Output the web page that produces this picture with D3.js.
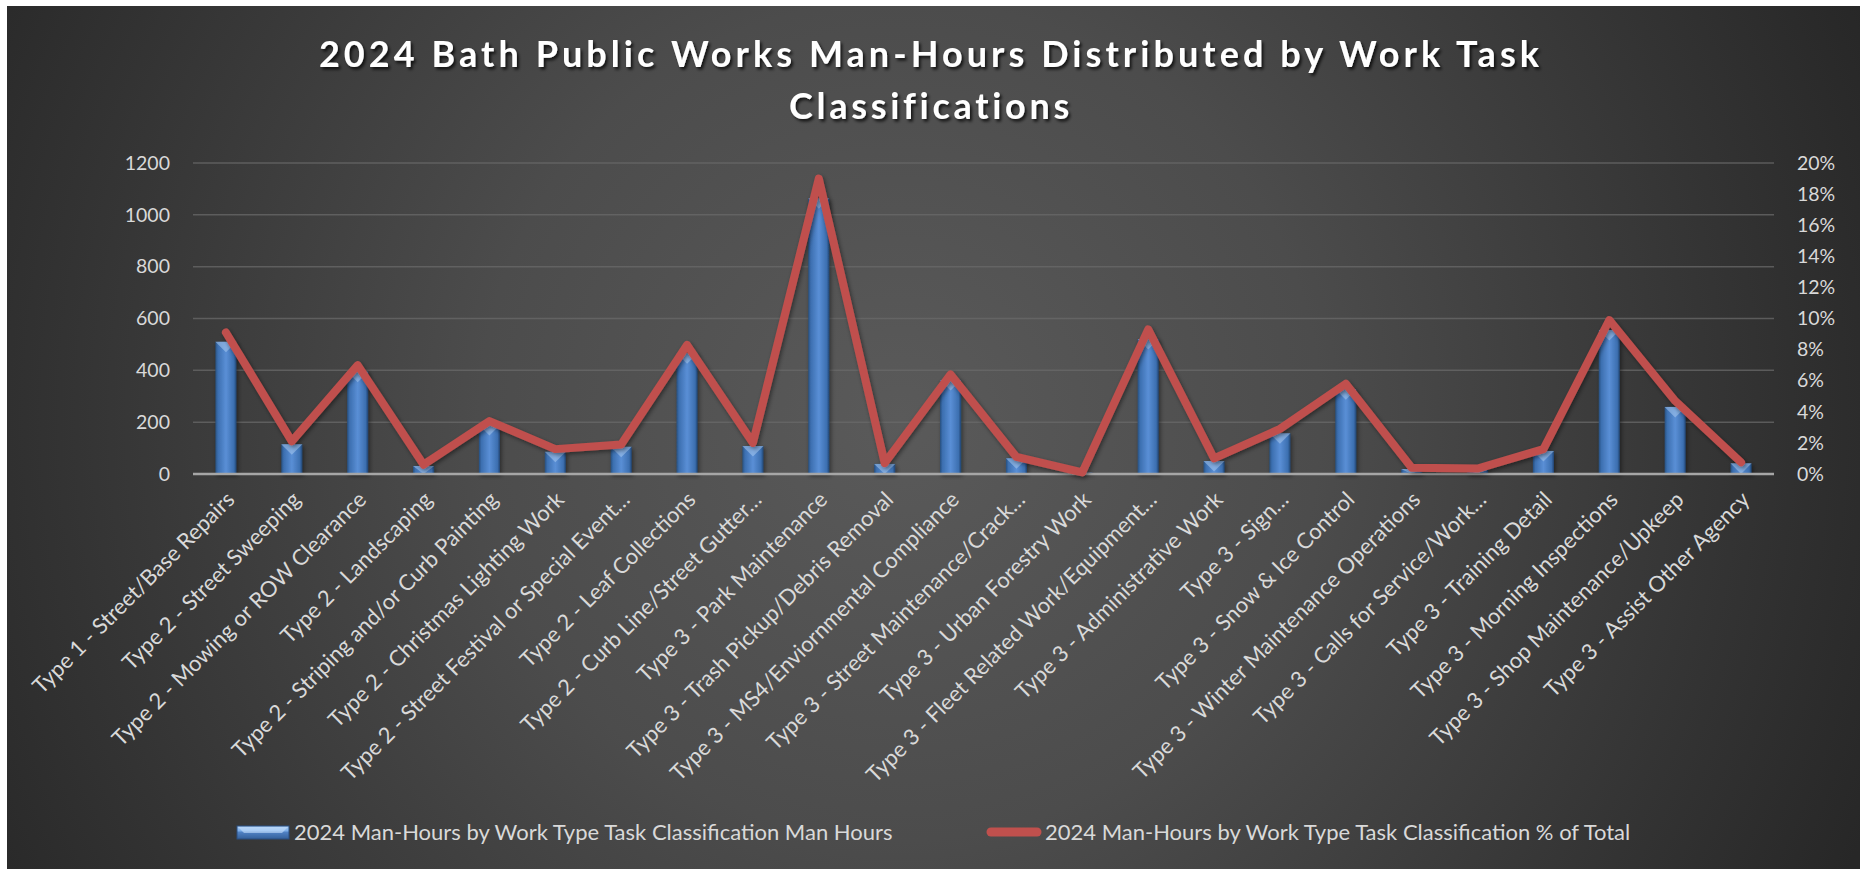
<!DOCTYPE html>
<html>
<head>
<meta charset="utf-8">
<script src="https://cdn.jsdelivr.net/npm/d3@7"></script>
<style>
  html, body { margin: 0; padding: 0; background: #ffffff; }
  svg { display: block; }
  text { font-family: Lato, "Open Sans", sans-serif; }
</style>
</head>
<body>
<svg id="chart" width="1860" height="869"></svg>
<script>
const categories = [
  "Type 1 - Street/Base Repairs",
  "Type 2 - Street Sweeping",
  "Type 2 - Mowing or ROW Clearance",
  "Type 2 - Landscaping",
  "Type 2 - Striping and/or Curb Painting",
  "Type 2 - Christmas Lighting Work",
  "Type 2 - Street Festival or Special Event…",
  "Type 2 - Leaf Collections",
  "Type 2 - Curb Line/Street Gutter…",
  "Type 3 - Park Maintenance",
  "Type 3 - Trash Pickup/Debris Removal",
  "Type 3 - MS4/Enviornmental Compliance",
  "Type 3 - Street Maintenance/Crack…",
  "Type 3 - Urban Forestry Work",
  "Type 3 - Fleet Related Work/Equipment…",
  "Type 3 - Administrative Work",
  "Type 3 - Sign…",
  "Type 3 - Snow & Ice Control",
  "Type 3 - Winter Maintenance Operations",
  "Type 3 - Calls for Service/Work…",
  "Type 3 - Training Detail",
  "Type 3 - Morning Inspections",
  "Type 3 - Shop Maintenance/Upkeep",
  "Type 3 - Assist Other Agency"
];
const manHours = [510, 115, 395, 31, 189, 86, 105, 466, 108, 1064, 39, 363, 61, 5, 521, 50, 157, 327, 19, 16, 89, 556, 259, 41];
const pctOfTotal = [0.091, 0.021, 0.070, 0.006, 0.034, 0.016, 0.019, 0.083, 0.020, 0.190, 0.007, 0.064, 0.011, 0.001, 0.093, 0.010, 0.029, 0.058, 0.004, 0.0035, 0.016, 0.099, 0.047, 0.0075];
const leftTicks = [0, 200, 400, 600, 800, 1000, 1200];
const rightTicks = [0, 0.02, 0.04, 0.06, 0.08, 0.10, 0.12, 0.14, 0.16, 0.18, 0.20];
const titleLines = ["2024 Bath Public Works Man-Hours Distributed by Work Task", "Classifications"];
const seriesNames = ["2024 Man-Hours by Work Type Task Classification Man Hours", "2024 Man-Hours by Work Type Task Classification % of Total"];

const W = 1860, H = 869;
const plot = { left: 193, right: 1774, top: 163, bottom: 474 };
const svg = d3.select("#chart");
const defs = svg.append("defs");

// background gradient
const bg = defs.append("radialGradient").attr("id", "bgGrad")
  .attr("gradientUnits", "userSpaceOnUse").attr("cx", 900).attr("cy", 420).attr("r", 1050);
[[0, "#5a5a5a"], [0.4, "#4c4c4c"], [0.8, "#333333"], [1, "#272727"]].forEach(([o, c]) =>
  bg.append("stop").attr("offset", o).attr("stop-color", c));

// bar gradient (horizontal cylinder-like)
const bgBar = defs.append("linearGradient").attr("id", "barGrad").attr("x1", 0).attr("x2", 1).attr("y1", 0).attr("y2", 0);
[[0, "#27507f"], [0.12, "#3c6fb0"], [0.5, "#5a8fd6"], [0.88, "#3c6fb0"], [1, "#1f4370"]].forEach(([o, c]) =>
  bgBar.append("stop").attr("offset", o).attr("stop-color", c));

const legGrad = defs.append("linearGradient").attr("id", "legGrad").attr("x1", 0).attr("x2", 0).attr("y1", 0).attr("y2", 1);
[[0, "#a9cdf5"], [0.35, "#7fb0ea"], [0.5, "#4f80c2"], [1, "#34609a"]].forEach(([o, c]) =>
  legGrad.append("stop").attr("offset", o).attr("stop-color", c));

const sh = defs.append("filter").attr("id", "shadow").attr("x", "-10%").attr("y", "-30%").attr("width", "120%").attr("height", "160%");
sh.append("feDropShadow").attr("dx", 2).attr("dy", 2.5).attr("stdDeviation", 1.5).attr("flood-color", "#000").attr("flood-opacity", 0.75);
const lsh = defs.append("filter").attr("id", "lshadow").attr("x", "-5%").attr("y", "-5%").attr("width", "110%").attr("height", "110%");
lsh.append("feDropShadow").attr("dx", 1.5).attr("dy", 2).attr("stdDeviation", 2).attr("flood-color", "#000").attr("flood-opacity", 0.45);

svg.append("rect").attr("x", 7).attr("y", 6).attr("width", W - 7).attr("height", H - 6).attr("fill", "url(#bgGrad)");

// title
const titleG = svg.append("g").attr("filter", "url(#shadow)");
const titleTargets = [1224, 284];
titleLines.forEach((t, i) => {
  const tx = titleG.append("text")
    .attr("x", 931).attr("y", 67 + i * 52)
    .attr("text-anchor", "middle")
    .attr("fill", "#ffffff").attr("font-weight", 700).attr("font-size", 36)
    .text(t);
  const len = tx.node().getComputedTextLength();
  const ls = (titleTargets[i] - len) / t.length;
  tx.attr("letter-spacing", ls.toFixed(2));
});

// scales
const x = d3.scaleBand().domain(categories).range([plot.left, plot.right]).paddingInner(0.68).paddingOuter(0.34);
const yL = d3.scaleLinear().domain([0, 1200]).range([plot.bottom, plot.top]);
const yR = d3.scaleLinear().domain([0, 0.2]).range([plot.bottom, plot.top]);

// gridlines
svg.append("g").selectAll("line").data(leftTicks.filter(d => d > 0)).join("line")
  .attr("x1", plot.left).attr("x2", plot.right)
  .attr("y1", d => yL(d)).attr("y2", d => yL(d))
  .attr("stroke", "#6a6a6a").attr("stroke-opacity", 0.75).attr("stroke-width", 1.5);

// axes
const axL = svg.append("g").attr("transform", `translate(${plot.left},0)`)
  .call(d3.axisLeft(yL).tickValues(leftTicks).tickSize(0).tickPadding(23).tickFormat(d3.format("d")));
const axR = svg.append("g").attr("transform", `translate(${plot.right},0)`)
  .call(d3.axisRight(yR).tickValues(rightTicks).tickSize(0).tickPadding(23).tickFormat(d3.format(".0%")));
[axL, axR].forEach(a => {
  a.select(".domain").remove();
  a.selectAll("text").attr("fill", "#d9d9d9").attr("font-size", 19.5).attr("font-family", "Lato, 'Open Sans', sans-serif");
});

// bars
const bw = x.bandwidth();
const barsG = svg.append("g").attr("filter", "url(#lshadow)");
const barData = categories.map((c, i) => ({ c, v: manHours[i] }));
barsG.selectAll("rect.bar").data(barData).join("rect").attr("class", "bar")
  .attr("x", d => x(d.c)).attr("width", bw)
  .attr("y", d => yL(d.v)).attr("height", d => yL(0) - yL(d.v))
  .attr("fill", "url(#barGrad)");
// bevel on top of each bar
barsG.selectAll("path.bevel").data(barData).join("path").attr("class", "bevel")
  .attr("d", d => {
    const x0 = x(d.c), x1 = x0 + bw, t = yL(d.v), h = Math.min(bw * 0.5, yL(0) - t);
    return `M${x0},${t}L${x1},${t}L${(x0 + x1) / 2},${t + h}Z`;
  })
  .attr("fill", "#a7c8ee").attr("fill-opacity", 0.55);

// baseline
svg.append("line").attr("x1", plot.left).attr("x2", plot.right)
  .attr("y1", yL(0)).attr("y2", yL(0))
  .attr("stroke", "#a6a6a6").attr("stroke-width", 2.5);

// line
const lineData = categories.map((c, i) => ({ c, v: pctOfTotal[i] }));
const line = d3.line().x(d => x(d.c) + bw / 2).y(d => yR(d.v));
svg.append("path").datum(lineData)
  .attr("d", line)
  .attr("fill", "none").attr("stroke", "#c0504d").attr("stroke-width", 8)
  .attr("stroke-linejoin", "round").attr("stroke-linecap", "round")
  .attr("filter", "url(#lshadow)");

// category labels
const axB = svg.append("g").attr("transform", `translate(0,${plot.bottom})`)
  .call(d3.axisBottom(x).tickSize(0));
axB.select(".domain").remove();
axB.selectAll("text")
  .attr("x", 0).attr("y", 0).attr("dy", 0)
  .attr("text-anchor", "end")
  .attr("transform", "translate(10,27) rotate(-45)")
  .attr("fill", "#d9d9d9").attr("font-size", 22)
  .attr("font-family", "Lato, 'Open Sans', sans-serif");

// legend
const leg = svg.append("g");
leg.append("rect").attr("x", 237).attr("y", 826).attr("width", 52).attr("height", 13)
  .attr("fill", "url(#legGrad)").attr("stroke", "#2a4f80").attr("stroke-width", 1);
leg.append("path").attr("d", "M238,827L288,827L282,833L244,833Z").attr("fill", "#c6e0fb").attr("fill-opacity", 0.6);
leg.append("text").attr("x", 294).attr("y", 840).attr("fill", "#d9d9d9").attr("font-size", 22).text(seriesNames[0]);
leg.append("line").attr("x1", 991).attr("x2", 1037).attr("y1", 832).attr("y2", 832)
  .attr("stroke", "#c0504d").attr("stroke-width", 9).attr("stroke-linecap", "round");
leg.append("text").attr("x", 1045).attr("y", 840).attr("fill", "#d9d9d9").attr("font-size", 22).text(seriesNames[1]);
</script>
</body>
</html>
